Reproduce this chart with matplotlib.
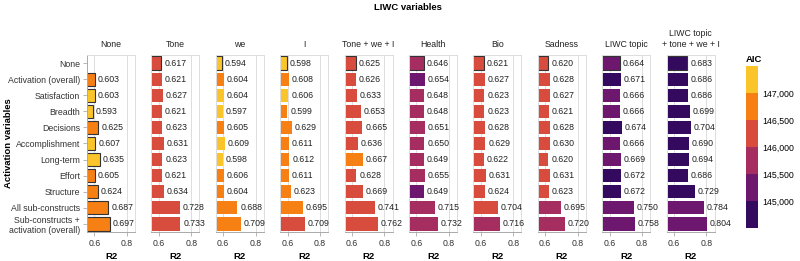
import numpy as np
import matplotlib
matplotlib.use("Agg")
import matplotlib.pyplot as plt
from matplotlib.colors import ListedColormap, BoundaryNorm

plt.rcParams['font.family'] = ['Liberation Sans', 'DejaVu Sans']

# activation variables (rows) and LIWC variables (panels)
rows = ["None", "Activation (overall)", "Satisfaction", "Breadth", "Decisions",
        "Accomplishment", "Long-term", "Effort", "Structure",
        "All sub-constructs", "Sub-constructs +\nactivation (overall)"]
cols = ["None", "Tone", "we", "I", "Tone + we + I", "Health", "Bio", "Sadness",
        "LIWC topic", "LIWC topic\n+ tone + we + I"]

nan = np.nan
r2 = np.array([
    [nan, .617, .594, .598, .625, .646, .621, .620, .664, .683],
    [.603, .621, .604, .608, .626, .654, .627, .628, .671, .686],
    [.603, .627, .604, .606, .633, .648, .623, .627, .666, .686],
    [.593, .621, .597, .599, .653, .648, .623, .621, .666, .699],
    [.625, .623, .605, .629, .665, .651, .628, .628, .674, .704],
    [.607, .631, .609, .611, .636, .650, .629, .630, .666, .690],
    [.635, .623, .598, .612, .667, .649, .622, .620, .669, .694],
    [.605, .621, .606, .611, .628, .655, .631, .631, .672, .686],
    [.624, .634, .604, .623, .669, .649, .624, .623, .672, .729],
    [.687, .728, .688, .695, .741, .715, .704, .695, .750, .784],
    [.697, .733, .709, .709, .762, .732, .716, .720, .758, .804],
])

# AIC estimated from the colour bin of each bar
aic = np.array([
    [nan, 146250, 147200, 147200, 146250, 145750, 146250, 146250, 145250, 144750],
    [146750, 146250, 146750, 146750, 146250, 145250, 146250, 146250, 144750, 144750],
    [147200, 146250, 147200, 147200, 146250, 145750, 146250, 146250, 145250, 144750],
    [147200, 146250, 147200, 146750, 146250, 145750, 146250, 146250, 145250, 144750],
    [146750, 146250, 146750, 146750, 146250, 145750, 146250, 146250, 144750, 144750],
    [147200, 146250, 147200, 146750, 146250, 145750, 146250, 146250, 145250, 144750],
    [147200, 146250, 147200, 146750, 146750, 145750, 146250, 146250, 145250, 144750],
    [146750, 146250, 146750, 146750, 146250, 145750, 146250, 146250, 144750, 144750],
    [146750, 146250, 146750, 146750, 146250, 145250, 146250, 146250, 144750, 144750],
    [146750, 146250, 146750, 146750, 146250, 145750, 146250, 145750, 145250, 145250],
    [146750, 146250, 146750, 146250, 146250, 145750, 145750, 145750, 145250, 145250],
])

aic_bounds = [144500, 145000, 145500, 146000, 146500, 147000, 147500]
aic_ticks = [145000, 145500, 146000, 146500, 147000]

cmap = ListedColormap(plt.cm.inferno(np.linspace(0.17, 0.86, 6)))
norm = BoundaryNorm(aic_bounds, cmap.N)

W, H = 800, 261
fig = plt.figure(figsize=(W / 100, H / 100), dpi=100)

grid_c = "#dddddd"
fs = 6.3
y = np.arange(len(rows))
for j, col in enumerate(cols):
    left = 87 + j * 64.4
    ax = fig.add_axes([left / W, 1 - 232 / H, 48 / W, 177 / H])
    vals = r2[:, j]
    ok = ~np.isnan(vals)
    colors = cmap(norm(np.nan_to_num(aic[:, j])))
    for i in np.where(ok)[0]:
        outlined = (j == 0) or (i == 0)
        ax.barh(y[i], vals[i], height=0.82, color=colors[i],
                edgecolor="#333333" if outlined else "none",
                linewidth=0.8 if outlined else 0, zorder=2)
        ax.annotate(f"{vals[i]:.3f}", (vals[i], y[i]), xytext=(2, 0),
                    textcoords="offset points", va="center", ha="left",
                    fontsize=fs, color="#222222", zorder=3)
    ax.set_xlim(0.555, 0.85)
    ax.set_ylim(len(rows) - 0.5, -0.5)
    ax.set_xticks([0.6, 0.8])
    ax.set_xticklabels(["0.6", "0.8"], fontsize=fs, color="#333333")
    ax.grid(axis="x", color=grid_c, linewidth=0.7, zorder=0)
    ax.set_axisbelow(True)
    for s in ax.spines.values():
        s.set_color(grid_c)
        s.set_linewidth(0.7)
    ax.spines["bottom"].set_color("#aaaaaa")
    ax.tick_params(axis="x", length=3, width=0.6, color="#aaaaaa", pad=2)
    ax.set_xlabel("R2", fontsize=6.8, fontweight="bold", labelpad=3)
    ax.set_title(col, fontsize=fs, pad=6, color="#222222", linespacing=1.3)
    if j == 0:
        ax.set_yticks(y)
        ax.set_yticklabels(rows, fontsize=fs, color="#333333")
        ax.spines["left"].set_color("#aaaaaa")
        ax.tick_params(axis="y", length=3, width=0.6, color="#aaaaaa", pad=2)
    else:
        ax.set_yticks([])

fig.text(9 / W, 1 - 143 / H, "Activation variables", rotation=90,
         ha="center", va="center", fontsize=6.8, fontweight="bold")
fig.text(408 / W, 1 - 7 / H, "LIWC variables", ha="center", va="center",
         fontsize=6.8, fontweight="bold")

# AIC legend
cax = fig.add_axes([746 / W, 1 - 228 / H, 12 / W, 162 / H])
cb = fig.colorbar(plt.cm.ScalarMappable(norm=norm, cmap=cmap), cax=cax,
                  boundaries=aic_bounds, ticks=aic_ticks)
cb.outline.set_visible(False)
cb.ax.minorticks_off()
cb.ax.tick_params(length=0, labelsize=fs, pad=3)
cb.ax.set_yticklabels([f"{t:,}" for t in aic_ticks])
fig.text(746 / W, 1 - 60 / H, "AIC", ha="left", va="center", fontsize=6.8,
         fontweight="bold")

fig.savefig("out.png", dpi=100)
